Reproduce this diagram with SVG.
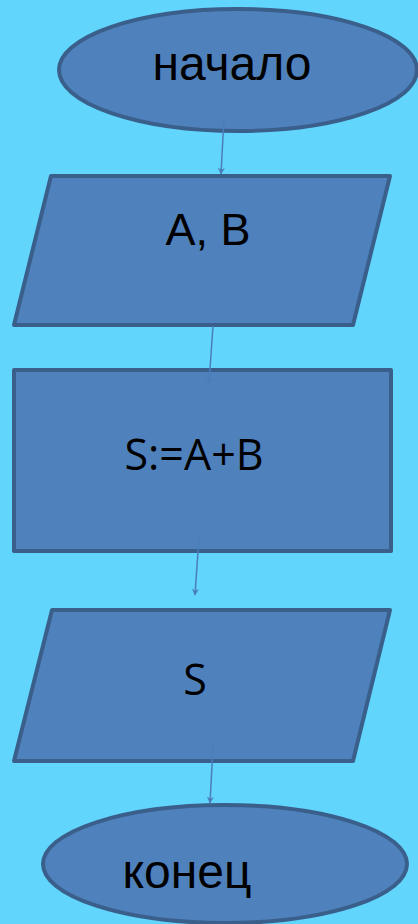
<svg xmlns="http://www.w3.org/2000/svg" width="418" height="924" viewBox="0 0 418 924">
<defs>
<style>
.shape{fill:#4F81BD;stroke:#3A5F8B;stroke-width:4;stroke-linejoin:round}
.arial{font-family:"Liberation Sans",Arial,sans-serif;fill:#000;text-anchor:middle}
.segoe{font-family:"Open Sans","Noto Sans",sans-serif;fill:#000;text-anchor:middle}
.conn{stroke:#4A7EBB;stroke-width:1.5;fill:none}
</style>
<marker id="arr" viewBox="0 0 10 10" refX="9" refY="5" markerWidth="9" markerHeight="7" orient="auto" markerUnits="userSpaceOnUse">
<path d="M0,0 L10,5 L0,10 L3,5 Z" fill="#4A7EBB"/>
</marker>
</defs>
<rect x="0" y="0" width="418" height="924" fill="#61D5FB"/>
<g id="start">
<ellipse class="shape" cx="238" cy="70" rx="179" ry="61"/>
<text class="arial" x="232" y="80" font-size="48">начало</text>
</g>
<g id="input">
<polygon class="shape" points="51,176 390,176 353,325 14,325"/>
<text class="arial" x="208" y="245" font-size="45">A, B</text>
</g>
<g id="process">
<rect class="shape" x="14" y="370" width="377" height="181"/>
<text class="segoe" x="194" y="470" font-size="43">S:=A+B</text>
</g>
<g id="output">
<polygon class="shape" points="52,610 390,610 353,761 14,761"/>
<text class="segoe" x="195" y="695" font-size="43">S</text>
</g>
<g id="end">
<ellipse class="shape" cx="225" cy="864" rx="182" ry="59"/>
<text class="arial" x="187" y="888" font-size="48">конец</text>
</g>
<g id="connectors">
<line class="conn" x1="224" y1="117" x2="221" y2="174" marker-end="url(#arr)"/>
<line class="conn" x1="213" y1="326" x2="209" y2="383" marker-end="url(#arr)"/>
<line class="conn" x1="199" y1="537" x2="195" y2="595" marker-end="url(#arr)"/>
<line class="conn" x1="213" y1="747" x2="210" y2="803" marker-end="url(#arr)"/>
</g>
</svg>
